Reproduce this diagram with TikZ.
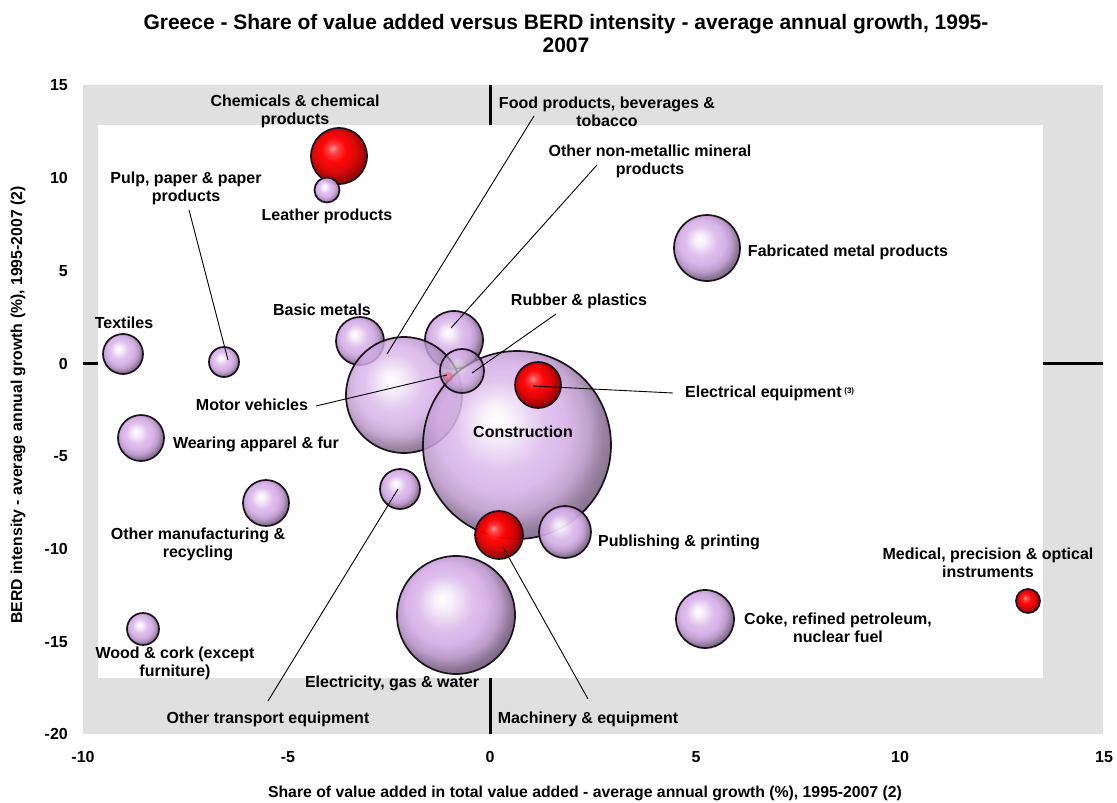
\documentclass[tikz,border=0pt]{standalone}
\usepackage{fontspec}
\setmainfont{Liberation Sans}
\definecolor{lil}{RGB}{214,174,232}
\definecolor{gbg}{RGB}{224,224,224}
\definecolor{rimc}{RGB}{30,18,30}
\pgfdeclareradialshading{lilball}{\pgfpoint{-6bp}{7bp}}{color(0bp)=(white); color(4bp)=(white!80!lil); color(12bp)=(lil!85!white); color(17bp)=(lil); color(22bp)=(lil!86!black); color(26bp)=(lil!62!black); color(32bp)=(lil!40!black); color(50bp)=(lil!40!black)}
\pgfdeclareradialshading{redball}{\pgfpoint{-6bp}{7bp}}{color(0bp)=(red!40!white); color(4bp)=(red!75!white); color(11bp)=(red); color(18bp)=(red!88!black); color(24bp)=(red!65!black); color(32bp)=(red!40!black); color(50bp)=(red!40!black)}
\begin{document}
\begin{tikzpicture}[x=1pt,y=-1pt,
  bub/.style={circle, draw=rimc, line width=1.7pt, inner sep=0pt, shade, shading=lilball, fill opacity=0.93},
  rbub/.style={circle, draw=rimc, line width=1.7pt, inner sep=0pt, shade, shading=redball, fill opacity=0.97},
  lbl/.style={font=\bfseries\fontsize{16}{18}\selectfont, align=center, inner sep=0pt},
  tick/.style={font=\bfseries\fontsize{16}{18}\selectfont, inner sep=0pt},
  atitle/.style={font=\bfseries\fontsize{15.8}{17}\selectfont, inner sep=0pt},
  lead/.style={draw=black, line width=0.9pt},
  axisline/.style={draw=black, line width=3pt}]
\useasboundingbox (0,0) rectangle (1117,803);
\fill[white] (0,0) rectangle (1117,803);
% plot area
\fill[gbg] (83,85) rectangle (1103,734);
\draw[axisline] (490,85) -- (490,734);
\draw[axisline] (83,363) -- (1103,363);
\fill[white] (98,125) rectangle (1043,678);
% title
\node[font=\bfseries\fontsize{21}{23}\selectfont, align=center, inner sep=0pt] (title) at (566,33) {Greece - Share of value added versus BERD intensity - average annual growth, 1995-\\2007};
% ticks
\node[tick, anchor=east] (y15) at (68,85) {15};
\node[tick, anchor=east] (y10) at (68,178) {10};
\node[tick, anchor=east] (y5) at (68,271) {5};
\node[tick, anchor=east] (y0) at (68,364) {0};
\node[tick, anchor=east] (ym5) at (68,456) {-5};
\node[tick, anchor=east] (ym10) at (68,549) {-10};
\node[tick, anchor=east] (ym15) at (68,642) {-15};
\node[tick, anchor=east] (ym20) at (68,734) {-20};
\node[tick] (xm10) at (83,757) {-10};
\node[tick] (xm5) at (288,757) {-5};
\node[tick] (x0) at (490,757) {0};
\node[tick] (x5) at (696,757) {5};
\node[tick] (x10) at (900,757) {10};
\node[tick] (x15) at (1104,757) {15};
\node[atitle] (xtitle) at (585,793) {Share of value added in total value added - average annual growth (\%), 1995-2007 (2)};
\node[atitle, rotate=90] (ytitle) at (18,405) {BERD intensity - average annual growth (\%), 1995-2007 (2)};
% bubbles
\node[rbub, minimum size=56pt] (chem) at (339,156) {};
\node[bub, minimum size=25pt] (leather) at (327,190) {};
\node[bub, minimum size=30pt] (pulp) at (224,362) {};
\node[bub, minimum size=40pt] (textiles) at (123,354) {};
\node[bub, minimum size=46pt] (wearing) at (141,438) {};
\node[bub, minimum size=48pt] (basic) at (360,341) {};
\node[bub, minimum size=58pt] (nonmet) at (454,340) {};
\node[bub, minimum size=116pt, fill opacity=0.82] (food) at (404,395) {};
\node[bub, minimum size=188pt, fill opacity=0.85] (constr) at (517,445) {};
\node[rbub, minimum size=10pt, draw=none, fill opacity=0.7] (motor) at (448,377) {};
\node[bub, minimum size=44pt, fill opacity=0.6] (rubber) at (462,371) {};
\node[rbub, minimum size=46pt] (elec) at (538,385) {};
\node[bub, minimum size=40pt] (otrans) at (400,489) {};
\node[rbub, minimum size=48pt] (mach) at (499,535) {};
\node[bub, minimum size=52pt] (publ) at (565,532) {};
\node[bub, minimum size=46pt] (omanuf) at (266,503) {};
\node[bub, minimum size=32pt] (wood) at (143,629) {};
\node[bub, minimum size=118pt] (egw) at (456,615) {};
\node[bub, minimum size=66pt] (fabr) at (707,248) {};
\node[bub, minimum size=58pt] (coke) at (705,619) {};
\node[rbub, minimum size=24pt] (medic) at (1028,601) {};
% leader end points
\coordinate (pulpA) at (189,210);  \coordinate (pulpB) at (228,360);
\coordinate (foodA) at (534,116);  \coordinate (foodB) at (387,354);
\coordinate (nonmA) at (597,165);  \coordinate (nonmB) at (451,328);
\coordinate (rubA) at (556,314);   \coordinate (rubB) at (472,373);
\coordinate (motA) at (316,406);   \coordinate (motB) at (447,375);
\coordinate (elecA) at (673,393);  \coordinate (elecB) at (533,386);
\coordinate (otrA) at (268,701);   \coordinate (otrB) at (398,489);
\coordinate (machA) at (588,699);  \coordinate (machB) at (503,547);
\draw[lead] (pulpA) -- (pulpB);
\draw[lead] (foodA) -- (foodB);
\draw[lead] (nonmA) -- (nonmB);
\draw[lead] (rubA) -- (rubB);
\draw[lead] (motA) -- (motB);
\draw[lead] (elecA) -- (elecB);
\draw[lead] (otrA) -- (otrB);
\draw[lead] (machA) -- (machB);
% labels
\node[lbl] (chemL) at (295,111) {Chemicals \& chemical\\products};
\node[lbl] (pulpL) at (186,188) {Pulp, paper \& paper\\products};
\node[lbl] (leatherL) at (327,216) {Leather products};
\node[lbl] (textL) at (124,323) {Textiles};
\node[lbl] (basicL) at (322,310) {Basic metals};
\node[lbl] (motorL) at (252,405) {Motor vehicles};
\node[lbl] (wearL) at (256,444) {Wearing apparel \& fur};
\node[lbl] (omanL) at (198,544) {Other manufacturing \&\\recycling};
\node[lbl] (woodL) at (175,663) {Wood \& cork (except\\furniture)};
\node[lbl] (otrL) at (268,719) {Other transport equipment};
\node[lbl] (egwL) at (392,683) {Electricity, gas \& water};
\node[lbl] (machL) at (588,719) {Machinery \& equipment};
\node[lbl] (constrL) at (523,432) {Construction};
\node[lbl] (publL) at (679,542) {Publishing \& printing};
\node[lbl] (medL) at (988,563) {Medical, precision \& optical\\instruments};
\node[lbl] (cokeL) at (838,628) {Coke, refined petroleum,\\nuclear fuel};
\node[lbl] (fabrL) at (848,252) {Fabricated metal products};
\node[lbl, anchor=west] (elecL) at (685,393) {Electrical equipment\,\raisebox{4pt}{\fontsize{8}{8}\selectfont(3)}};
\node[lbl] (rubL) at (579,301) {Rubber \& plastics};
\node[lbl] (nonmL) at (650,161) {Other non-metallic mineral\\products};
\node[lbl] (foodL) at (607,112) {Food products, beverages \&\\tobacco};
\end{tikzpicture}
\end{document}
